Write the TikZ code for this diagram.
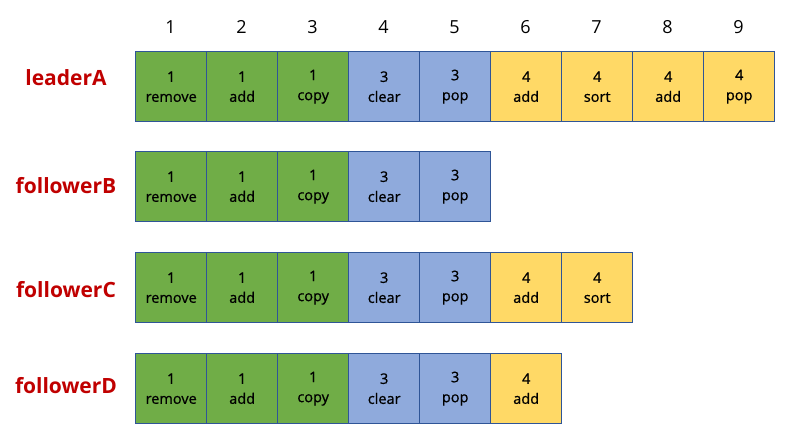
\documentclass[tikz,border=0pt]{standalone}
\usepackage{fontspec}
\setmainfont{Open Sans}
\newfontfamily\cellfont{Open Sans}[FakeBold=0.8]
\usetikzlibrary{positioning}
\definecolor{opgreen}{HTML}{70AD47}
\definecolor{opblue}{HTML}{8FAADC}
\definecolor{opyellow}{HTML}{FFD966}
\definecolor{opedge}{HTML}{2F5597}
\definecolor{logred}{HTML}{C00000}
\tikzset{
  cell/.style={draw=opedge, line width=1.4pt, minimum width=71pt, minimum height=70pt,
    inner sep=0pt, align=center, anchor=north west,
    font=\cellfont\fontsize{14.5}{20}\selectfont},
  gcell/.style={cell, fill=opgreen},
  bcell/.style={cell, fill=opblue},
  ycell/.style={cell, fill=opyellow},
  rowname/.style={text=logred, font=\fontsize{21}{26}\selectfont\bfseries},
  index/.style={font=\fontsize{18}{22}\selectfont}
}

\begin{document}
\begin{tikzpicture}[x=1pt, y=-1pt]
\useasboundingbox (0,0) rectangle (795,435);
% column numbers
\foreach \i in {1,...,9}
  \node[index] (idx-\i) at ({135+71*(\i-0.5)},27) {\i};
% log rows
\foreach \r/\top/\ny/\name/\ops in {
  1/51/78/leaderA/{gcell/1/remove,gcell/1/add,gcell/1/copy,bcell/3/clear,bcell/3/pop,ycell/4/add,ycell/4/sort,ycell/4/add,ycell/4/pop},
  2/151/186/followerB/{gcell/1/remove,gcell/1/add,gcell/1/copy,bcell/3/clear,bcell/3/pop},
  3/252/290/followerC/{gcell/1/remove,gcell/1/add,gcell/1/copy,bcell/3/clear,bcell/3/pop,ycell/4/add,ycell/4/sort},
  4/353/386/followerD/{gcell/1/remove,gcell/1/add,gcell/1/copy,bcell/3/clear,bcell/3/pop,ycell/4/add}}
{
  \node[rowname] (name-\r) at (66,\ny) {\name};
  \foreach \c/\t/\o [count=\k] in \ops
    \node[\c] (log-\r-\k) at ({135+71*(\k-1)},\top) {\t\\\o};
}
\end{tikzpicture}
\end{document}
